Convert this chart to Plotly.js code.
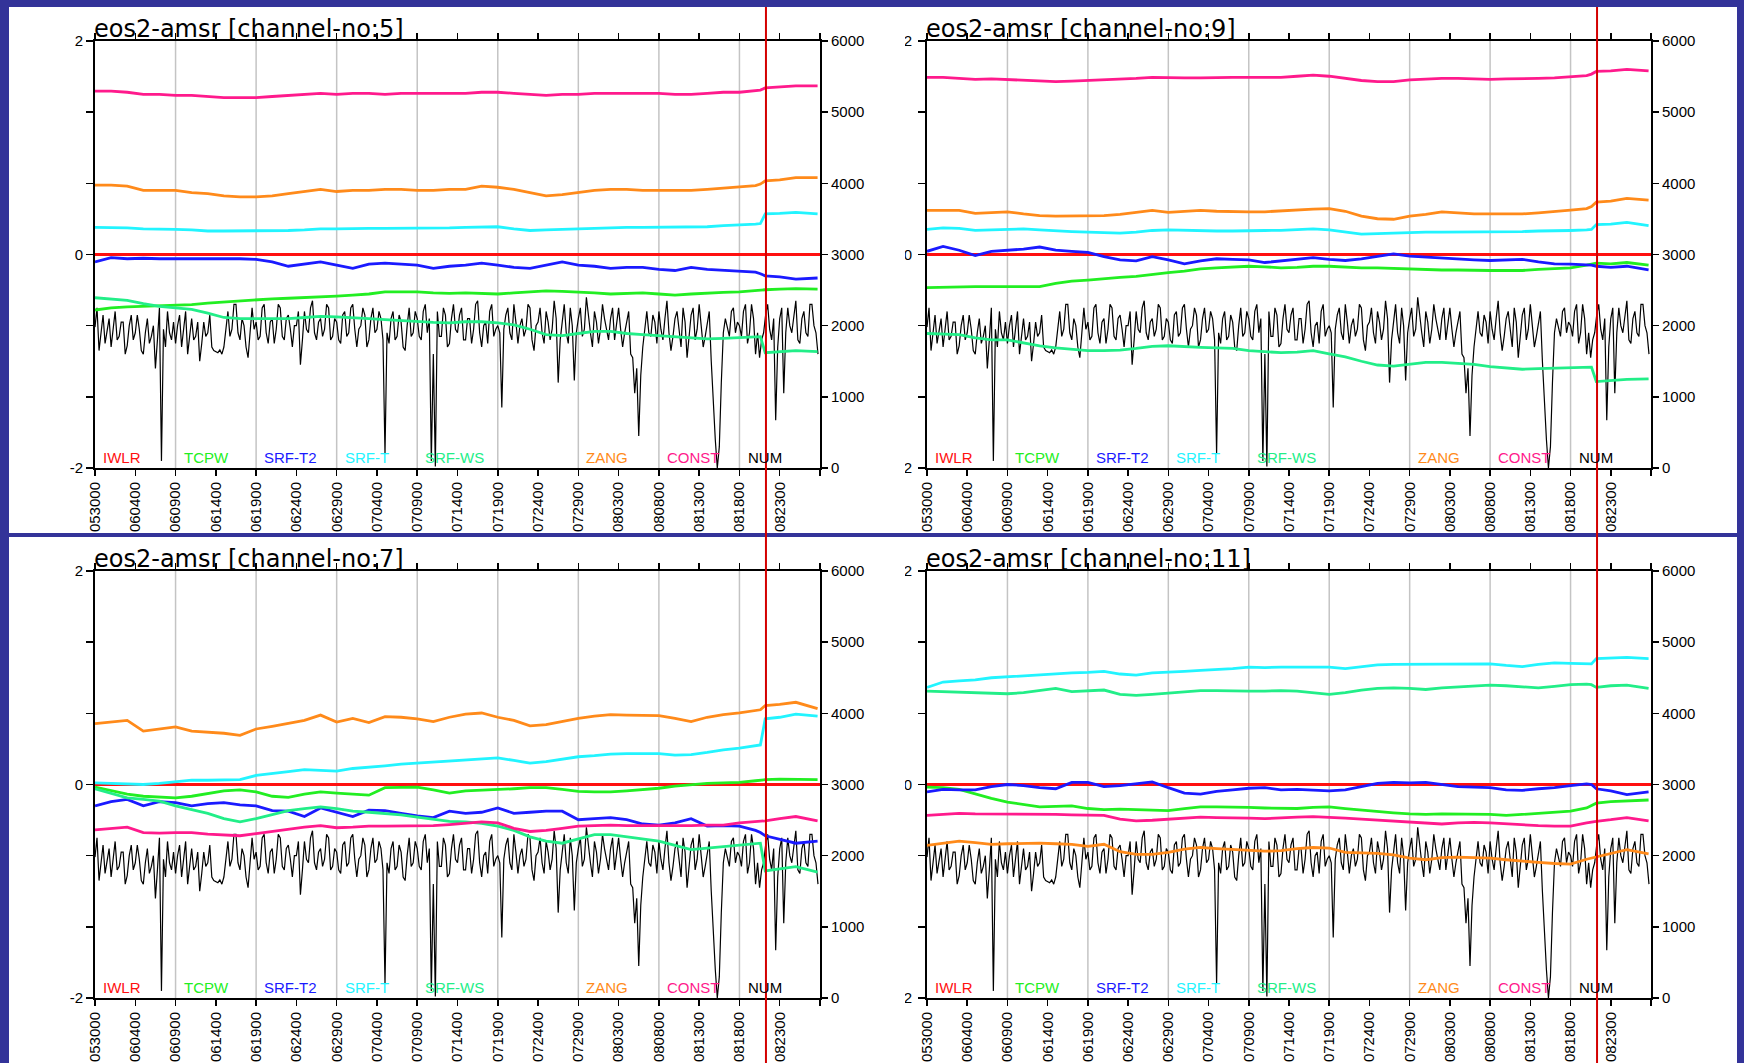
<!DOCTYPE html>
<html><head><meta charset="utf-8">
<script src="https://cdn.plot.ly/plotly-3.0.1.min.js"></script>
<style>html,body{margin:0;padding:0;background:#333399;}#chart{width:1744px;height:1063px;}</style>
</head><body><div id="chart"></div>
<script>
// ---------- data ----------
const TICK_DATES = ['2012-05-30','2012-06-04','2012-06-09','2012-06-14','2012-06-19','2012-06-24','2012-06-29','2012-07-04','2012-07-09','2012-07-14','2012-07-19','2012-07-24','2012-07-29','2012-08-03','2012-08-08','2012-08-13','2012-08-18','2012-08-23','2012-08-28'];
const TICK_TEXT = ['053000','060400','060900','061400','061900','062400','062900','070400','070900','071400','071900','072400','072900','080300','080800','081300','081800','082300',''];
const GRID_DATES = ['2012-06-09','2012-06-19','2012-06-29','2012-07-09','2012-07-19','2012-07-29','2012-08-08','2012-08-18'];
const MARK_DATE = '2012-08-21 07:00';
const SERIES_NAMES = ['IWLR','TCPW','SRF-T2','SRF-T','SRF-WS','ZANG','CONST','NUM'];
const LEGEND_SLOTS = [0,1,2,3,4,6,7,8];
// day offsets (from 2012-05-30 00Z) of the coefficient samples
const COEF_DAYS = [0,2,4,6,8,10,12,14,16,18,20,22,24,26,28,30,32,34,36,38,40,42,44,46,48,50,52,54,56,58,60,62,64,66,68,70,72,74,76,78,80,82,82.6,83.2,85,87,89.7];
const IWLR_DAYS = [0,90];
const IWLR = [0,0];
// number of observations, 6-hourly from 2012-05-30 00Z
const NUM = [
1980,2250,1650,1900,2150,1750,1900,2100,1700,1950,2200,1800,1850,2050,2050,1600,1720,2000,2150,1800,
1900,2150,1950,1650,1600,1900,2100,1750,1850,2000,1400,1800,2250,100,1950,1700,2200,1900,1800,2050,
1750,2000,2150,1700,1950,2200,1600,1850,2100,1800,1850,2050,1500,1750,2050,1850,1900,2150,1700,1650,
1640,1620,1660,1600,1700,1950,2200,1850,1950,2300,2300,1900,1800,2100,2000,1700,1550,1900,2250,1950,
2050,1800,1850,2250,2300,1900,1750,2050,2100,1750,1950,2300,2250,1850,1800,2100,2150,1950,1700,2000,
2000,2200,1450,1800,2200,1950,1900,2250,2350,1900,1800,2050,2100,1850,1950,2300,2250,1800,1850,2100,
2050,1800,1750,2150,2200,1850,1900,2250,2300,1950,1700,1950,2000,2250,2150,1700,1800,2100,2250,1900,
1950,2200,2100,1800,200,1900,1750,2100,2200,1800,1850,2150,2050,1700,1650,2000,2250,1850,1900,2200,
2100,1850,1800,2200,2300,1900,2100,100,1600,20,2200,1850,1850,2250,2150,1700,1750,2100,2300,1950,
1900,2150,2250,1800,1800,2100,2100,1750,1950,2300,2350,1900,1700,2000,2050,1750,2200,2300,1850,1950,
2000,1900,850,1950,2150,2250,1900,1800,2300,2050,1750,2000,2100,1850,1950,2300,2250,1800,1650,2000,
2050,2250,1900,1750,2200,2050,1800,1950,2350,2100,1200,1800,2100,2300,1900,1750,2250,2000,1230,1900,
2100,2250,1850,1950,2400,2100,1900,1700,2200,2050,1750,1950,2300,2100,1950,1800,2100,2250,1800,2000,
2250,1950,1700,1900,2050,2200,1600,1550,1050,1400,450,1300,1700,2000,2200,1900,1850,2150,2050,1750,
2200,1950,1800,2100,2350,1900,1650,1850,2100,2200,1900,1700,2250,2050,1550,1850,2150,2250,1800,1950,
2300,2000,1700,1850,2050,2200,1500,900,400,0,300,1200,1900,2100,1950,1850,2200,2250,1900,2050,
2000,1850,2200,2300,1750,1900,2300,2100,1600,1900,1550,1800,1900,2150,2300,1950,1800,2100,670,1700,
2100,2250,1050,1900,2250,2000,1900,2150,2350,1800,1750,2100,2200,1900,1850,2300,2300,2000,1900,1600];

// channel 5
const CH5_TCPW = [-0.52,-0.50,-0.49,-0.485,-0.48,-0.48,-0.47,-0.455,-0.445,-0.43,-0.42,-0.415,-0.41,-0.405,-0.40,-0.39,-0.38,-0.37,-0.35,-0.35,-0.35,-0.36,-0.365,-0.36,-0.365,-0.37,-0.36,-0.35,-0.34,-0.345,-0.35,-0.36,-0.37,-0.365,-0.36,-0.37,-0.38,-0.37,-0.36,-0.355,-0.35,-0.335,-0.335,-0.33,-0.325,-0.32,-0.325];
const CH5_SRFT2 = [-0.07,-0.03,-0.04,-0.035,-0.04,-0.04,-0.04,-0.035,-0.04,-0.04,-0.045,-0.07,-0.11,-0.09,-0.07,-0.10,-0.13,-0.09,-0.08,-0.09,-0.10,-0.13,-0.11,-0.10,-0.08,-0.10,-0.12,-0.13,-0.10,-0.07,-0.10,-0.11,-0.13,-0.12,-0.12,-0.14,-0.15,-0.12,-0.14,-0.15,-0.16,-0.165,-0.18,-0.20,-0.21,-0.23,-0.22];
const CH5_SRFT = [0.255,0.255,0.25,0.24,0.24,0.235,0.23,0.22,0.22,0.22,0.22,0.22,0.225,0.23,0.24,0.24,0.245,0.245,0.245,0.245,0.245,0.245,0.25,0.255,0.26,0.26,0.24,0.225,0.23,0.235,0.24,0.25,0.255,0.255,0.255,0.255,0.255,0.255,0.26,0.27,0.275,0.285,0.29,0.38,0.385,0.395,0.38];
const CH5_SRFWS = [-0.405,-0.415,-0.43,-0.46,-0.485,-0.50,-0.515,-0.55,-0.59,-0.60,-0.60,-0.60,-0.60,-0.59,-0.58,-0.585,-0.59,-0.60,-0.61,-0.62,-0.63,-0.635,-0.64,-0.63,-0.63,-0.64,-0.66,-0.70,-0.75,-0.76,-0.74,-0.72,-0.72,-0.74,-0.75,-0.76,-0.77,-0.785,-0.79,-0.785,-0.78,-0.77,-0.77,-0.92,-0.91,-0.90,-0.91];
const CH5_ZANG = [0.65,0.65,0.64,0.60,0.60,0.60,0.58,0.57,0.55,0.54,0.54,0.55,0.57,0.59,0.61,0.59,0.60,0.60,0.61,0.61,0.60,0.60,0.61,0.61,0.64,0.63,0.61,0.58,0.55,0.56,0.58,0.60,0.61,0.61,0.60,0.60,0.60,0.60,0.61,0.62,0.63,0.645,0.66,0.69,0.70,0.72,0.72];
const CH5_CONST = [1.53,1.53,1.52,1.50,1.50,1.49,1.49,1.48,1.47,1.47,1.47,1.48,1.49,1.50,1.51,1.50,1.51,1.51,1.50,1.51,1.51,1.51,1.51,1.51,1.52,1.52,1.51,1.50,1.49,1.50,1.50,1.51,1.51,1.51,1.51,1.51,1.50,1.50,1.51,1.52,1.52,1.53,1.54,1.56,1.57,1.58,1.58];
// channel 9
const CH9_TCPW = [-0.31,-0.305,-0.30,-0.30,-0.30,-0.30,-0.305,-0.30,-0.27,-0.25,-0.24,-0.225,-0.215,-0.205,-0.185,-0.17,-0.155,-0.135,-0.125,-0.115,-0.11,-0.115,-0.125,-0.12,-0.11,-0.11,-0.12,-0.125,-0.125,-0.13,-0.14,-0.145,-0.145,-0.145,-0.15,-0.15,-0.15,-0.15,-0.14,-0.13,-0.125,-0.10,-0.09,-0.08,-0.088,-0.075,-0.10];
const CH9_SRFT2 = [0.03,0.075,0.04,-0.01,0.03,0.04,0.05,0.07,0.04,0.03,0.02,-0.02,-0.05,-0.06,-0.02,-0.05,-0.088,-0.06,-0.04,-0.045,-0.05,-0.075,-0.06,-0.04,-0.03,-0.045,-0.056,-0.04,-0.02,0.005,-0.015,-0.025,-0.035,-0.04,-0.05,-0.056,-0.05,-0.045,-0.07,-0.088,-0.09,-0.094,-0.10,-0.11,-0.12,-0.11,-0.145];
const CH9_SRFT = [0.235,0.25,0.245,0.226,0.23,0.235,0.24,0.23,0.22,0.215,0.21,0.205,0.20,0.21,0.225,0.23,0.225,0.22,0.22,0.22,0.225,0.225,0.226,0.235,0.24,0.23,0.21,0.19,0.195,0.20,0.21,0.21,0.21,0.21,0.21,0.21,0.215,0.215,0.22,0.22,0.225,0.23,0.235,0.28,0.285,0.30,0.27];
const CH9_SRFWS = [-0.74,-0.745,-0.75,-0.78,-0.80,-0.80,-0.83,-0.855,-0.875,-0.89,-0.90,-0.90,-0.895,-0.88,-0.86,-0.855,-0.865,-0.87,-0.875,-0.88,-0.90,-0.91,-0.92,-0.915,-0.90,-0.93,-0.96,-1.00,-1.035,-1.045,-1.03,-1.01,-1.01,-1.02,-1.03,-1.05,-1.065,-1.075,-1.07,-1.065,-1.06,-1.06,-1.055,-1.19,-1.18,-1.17,-1.165];
const CH9_ZANG = [0.414,0.414,0.414,0.385,0.39,0.40,0.38,0.365,0.36,0.36,0.36,0.365,0.375,0.395,0.414,0.395,0.405,0.414,0.405,0.40,0.40,0.40,0.41,0.42,0.425,0.43,0.405,0.36,0.335,0.33,0.36,0.375,0.40,0.39,0.38,0.38,0.38,0.38,0.39,0.40,0.415,0.43,0.45,0.49,0.50,0.525,0.51];
const CH9_CONST = [1.66,1.66,1.65,1.64,1.645,1.64,1.635,1.625,1.62,1.625,1.63,1.635,1.64,1.65,1.66,1.655,1.655,1.655,1.66,1.66,1.66,1.66,1.66,1.67,1.68,1.67,1.65,1.63,1.62,1.62,1.635,1.645,1.65,1.65,1.645,1.64,1.645,1.645,1.65,1.655,1.665,1.675,1.69,1.715,1.72,1.735,1.72];
// channel 7
const CH7_TCPW = [-0.025,-0.06,-0.09,-0.11,-0.12,-0.125,-0.11,-0.085,-0.06,-0.05,-0.07,-0.11,-0.12,-0.09,-0.07,-0.08,-0.09,-0.10,-0.03,-0.025,-0.025,-0.05,-0.08,-0.06,-0.055,-0.05,-0.04,-0.03,-0.03,-0.045,-0.065,-0.07,-0.07,-0.06,-0.05,-0.035,-0.015,0.0,0.01,0.015,0.02,0.035,0.04,0.045,0.05,0.05,0.045];
const CH7_SRFT2 = [-0.20,-0.16,-0.14,-0.20,-0.16,-0.17,-0.20,-0.18,-0.17,-0.19,-0.20,-0.245,-0.25,-0.30,-0.22,-0.26,-0.30,-0.24,-0.245,-0.27,-0.295,-0.31,-0.25,-0.27,-0.26,-0.22,-0.27,-0.26,-0.25,-0.25,-0.33,-0.32,-0.31,-0.33,-0.37,-0.38,-0.36,-0.32,-0.39,-0.385,-0.39,-0.43,-0.45,-0.48,-0.51,-0.55,-0.53];
const CH7_SRFT = [0.015,0.01,0.005,0.0,0.01,0.025,0.04,0.04,0.04,0.045,0.085,0.10,0.12,0.14,0.135,0.125,0.15,0.16,0.175,0.19,0.20,0.21,0.22,0.235,0.245,0.25,0.225,0.20,0.215,0.24,0.26,0.27,0.285,0.29,0.29,0.29,0.275,0.28,0.30,0.325,0.34,0.36,0.37,0.615,0.63,0.66,0.64];
const CH7_SRFWS = [-0.04,-0.08,-0.125,-0.14,-0.155,-0.20,-0.235,-0.27,-0.32,-0.35,-0.32,-0.28,-0.245,-0.225,-0.21,-0.225,-0.25,-0.26,-0.27,-0.285,-0.305,-0.325,-0.345,-0.35,-0.365,-0.39,-0.43,-0.49,-0.53,-0.55,-0.51,-0.47,-0.47,-0.49,-0.51,-0.53,-0.57,-0.61,-0.595,-0.58,-0.565,-0.55,-0.55,-0.81,-0.79,-0.77,-0.82];
const CH7_ZANG = [0.57,0.585,0.60,0.50,0.52,0.54,0.50,0.49,0.48,0.46,0.52,0.545,0.57,0.60,0.65,0.585,0.62,0.58,0.635,0.63,0.615,0.59,0.63,0.66,0.67,0.63,0.60,0.55,0.56,0.59,0.62,0.64,0.655,0.65,0.65,0.645,0.62,0.59,0.63,0.655,0.67,0.69,0.70,0.74,0.75,0.77,0.71];
const CH7_CONST = [-0.425,-0.41,-0.40,-0.45,-0.455,-0.45,-0.45,-0.465,-0.475,-0.48,-0.46,-0.44,-0.415,-0.40,-0.385,-0.405,-0.40,-0.39,-0.39,-0.39,-0.39,-0.385,-0.375,-0.36,-0.35,-0.36,-0.41,-0.44,-0.43,-0.41,-0.39,-0.385,-0.38,-0.385,-0.385,-0.385,-0.39,-0.385,-0.38,-0.38,-0.36,-0.35,-0.345,-0.34,-0.32,-0.30,-0.34];
// channel 11
const CH11_TCPW = [-0.025,-0.03,-0.045,-0.09,-0.13,-0.165,-0.19,-0.21,-0.205,-0.20,-0.225,-0.235,-0.23,-0.235,-0.24,-0.245,-0.225,-0.21,-0.21,-0.21,-0.215,-0.22,-0.225,-0.225,-0.215,-0.21,-0.225,-0.24,-0.255,-0.265,-0.275,-0.28,-0.275,-0.275,-0.275,-0.28,-0.29,-0.28,-0.265,-0.255,-0.25,-0.22,-0.20,-0.175,-0.16,-0.155,-0.145];
const CH11_SRFT2 = [-0.07,-0.045,-0.05,-0.05,-0.02,0.0,-0.01,-0.03,-0.04,0.02,0.02,-0.02,-0.01,0.01,0.025,-0.03,-0.08,-0.09,-0.065,-0.05,-0.035,-0.03,-0.05,-0.045,-0.05,-0.06,-0.05,-0.02,0.01,0.02,0.015,0.02,0.0,-0.02,-0.025,-0.03,-0.05,-0.055,-0.04,-0.03,-0.01,0.005,0.0,-0.04,-0.06,-0.095,-0.07];
const CH11_SRFT = [0.91,0.96,0.97,0.98,1.0,1.01,1.015,1.025,1.035,1.045,1.05,1.06,1.035,1.025,1.045,1.05,1.06,1.07,1.075,1.085,1.10,1.095,1.10,1.10,1.10,1.10,1.085,1.10,1.12,1.125,1.125,1.125,1.125,1.13,1.13,1.13,1.115,1.105,1.125,1.14,1.135,1.13,1.13,1.18,1.185,1.19,1.18];
const CH11_SRFWS = [0.875,0.87,0.865,0.86,0.855,0.85,0.86,0.88,0.90,0.87,0.88,0.885,0.845,0.835,0.845,0.855,0.87,0.88,0.88,0.875,0.875,0.875,0.88,0.875,0.86,0.845,0.86,0.885,0.90,0.905,0.90,0.89,0.905,0.915,0.925,0.93,0.925,0.915,0.905,0.92,0.935,0.94,0.935,0.91,0.925,0.93,0.90];
const CH11_ZANG = [-0.57,-0.55,-0.53,-0.545,-0.56,-0.555,-0.55,-0.55,-0.555,-0.56,-0.58,-0.56,-0.63,-0.655,-0.655,-0.635,-0.605,-0.59,-0.60,-0.61,-0.62,-0.625,-0.62,-0.60,-0.59,-0.595,-0.635,-0.64,-0.645,-0.66,-0.69,-0.705,-0.685,-0.68,-0.685,-0.69,-0.705,-0.72,-0.73,-0.74,-0.745,-0.70,-0.69,-0.68,-0.645,-0.61,-0.65];
const CH11_CONST = [-0.29,-0.28,-0.27,-0.275,-0.275,-0.28,-0.28,-0.28,-0.28,-0.285,-0.29,-0.29,-0.325,-0.34,-0.335,-0.325,-0.31,-0.305,-0.31,-0.31,-0.315,-0.32,-0.31,-0.305,-0.30,-0.305,-0.315,-0.325,-0.335,-0.345,-0.355,-0.365,-0.37,-0.36,-0.355,-0.36,-0.37,-0.38,-0.385,-0.39,-0.39,-0.36,-0.35,-0.345,-0.33,-0.31,-0.34];

const PANELS = [
  {title:'eos2-amsr [channel-no:5]', col:0, row:0, s:{'TCPW':CH5_TCPW,'SRF-T2':CH5_SRFT2,'SRF-T':CH5_SRFT,'SRF-WS':CH5_SRFWS,'ZANG':CH5_ZANG,'CONST':CH5_CONST}},
  {title:'eos2-amsr [channel-no:9]', col:1, row:0, s:{'TCPW':CH9_TCPW,'SRF-T2':CH9_SRFT2,'SRF-T':CH9_SRFT,'SRF-WS':CH9_SRFWS,'ZANG':CH9_ZANG,'CONST':CH9_CONST}},
  {title:'eos2-amsr [channel-no:7]', col:0, row:1, s:{'TCPW':CH7_TCPW,'SRF-T2':CH7_SRFT2,'SRF-T':CH7_SRFT,'SRF-WS':CH7_SRFWS,'ZANG':CH7_ZANG,'CONST':CH7_CONST}},
  {title:'eos2-amsr [channel-no:11]', col:1, row:1, s:{'TCPW':CH11_TCPW,'SRF-T2':CH11_SRFT2,'SRF-T':CH11_SRFT,'SRF-WS':CH11_SRFWS,'ZANG':CH11_ZANG,'CONST':CH11_CONST}}
];

// ---------- style ----------
const COLORS = {'IWLR':'#ff1010','TCPW':'#22ee22','SRF-T2':'#1a1aff','SRF-T':'#22f4ff','SRF-WS':'#22ee88','ZANG':'#ff8a1a','CONST':'#ff1a8c','NUM':'#000000'};
const W = 1744, H = 1063;
const COLX = [[95,820],[927,1651]];
const ROWY = [[41,468],[571,998]];
const FONT = 'Liberation Sans, Arial, sans-serif';
const px = v => v / W;
const py = v => 1 - v / H;
const T0 = Date.UTC(2012, 4, 30);
const dayToDate = d => new Date(T0 + d * 86400000).toISOString().slice(0, 19).replace('T', ' ');

const traces = [];
const layout = {
  width: W, height: H, margin: {l:0, r:0, t:0, b:0, pad:0},
  paper_bgcolor: '#333399', plot_bgcolor: 'rgba(0,0,0,0)',
  showlegend: false, font: {family: FONT, color: '#000', size: 15},
  shapes: [], annotations: []
};
// white panels
layout.shapes.push({type:'rect', xref:'paper', yref:'paper', x0:px(9), x1:px(1737), y0:py(533), y1:py(7), fillcolor:'#ffffff', line:{width:0}, layer:'below'});
layout.shapes.push({type:'rect', xref:'paper', yref:'paper', x0:px(9), x1:px(1737), y0:0, y1:py(537), fillcolor:'#ffffff', line:{width:0}, layer:'below'});

const numDates = NUM.map((_, i) => dayToDate(i * 0.25));
const coefDates = COEF_DAYS.map(dayToDate);
const iwlrDates = IWLR_DAYS.map(dayToDate);

PANELS.forEach((p, i) => {
  const xa = i === 0 ? 'x' : 'x' + (i + 1);
  const yn = i === 0 ? 'y' : 'y' + (2 * i + 1);
  const yc = 'y' + (2 * i + 2);
  const xk = 'xaxis' + (i === 0 ? '' : i + 1);
  const ynk = 'yaxis' + (i === 0 ? '' : 2 * i + 1);
  const yck = 'yaxis' + (2 * i + 2);
  const [x0, x1] = COLX[p.col];
  const [y0, y1] = ROWY[p.row];
  layout[xk] = {
    domain: [px(x0), px(x1)], anchor: yn, type: 'date',
    range: [dayToDate(0), dayToDate(90)],
    tickmode: 'array', tickvals: TICK_DATES, ticktext: TICK_TEXT, tickangle: -90,
    ticks: 'outside', ticklen: 6, tickwidth: 1.5, tickcolor: '#000',
    showline: true, linecolor: '#000', linewidth: 2, mirror: 'ticks',
    showgrid: false, zeroline: false, tickfont: {family: FONT, size: 15, color: '#000'}
  };
  layout[ynk] = {
    domain: [py(y1), py(y0)], anchor: xa, side: 'right', range: [0, 6000],
    tickmode: 'array', tickvals: [0,1000,2000,3000,4000,5000,6000],
    ticks: 'outside', ticklen: 6, tickwidth: 1.5, tickcolor: '#000',
    showline: true, linecolor: '#000', linewidth: 2, showgrid: false, zeroline: false,
    tickfont: {family: FONT, size: 15, color: '#000'}
  };
  layout[yck] = {
    overlaying: yn, anchor: xa, side: 'left', range: [-2, 2],
    tickmode: 'array', tickvals: [2, 4/3, 2/3, 0, -2/3, -4/3, -2], ticktext: ['2','','','0','','','-2'],
    ticks: 'outside', ticklen: 7, tickwidth: 1.5, tickcolor: '#000',
    ticklabelstandoff: p.col === 1 ? 3 : 0,
    showline: true, linecolor: '#000', linewidth: 2, showgrid: false, zeroline: false,
    tickfont: {family: FONT, size: 15, color: '#000'}
  };
  // grid lines
  GRID_DATES.forEach(d => layout.shapes.push({type:'line', xref:xa, yref:yn + ' domain', x0:d, x1:d, y0:0, y1:1, line:{color:'#c4c4c4', width:1.5}, layer:'below'}));
  // NUM on primary axis (drawn first)
  traces.push({type:'scatter', mode:'lines', x:numDates, y:NUM, xaxis:xa, yaxis:yn, line:{color:COLORS['NUM'], width:1.2}, hoverinfo:'skip'});
  // coefficient series on overlay axis
  traces.push({type:'scatter', mode:'lines', x:iwlrDates, y:IWLR, xaxis:xa, yaxis:yc, line:{color:COLORS['IWLR'], width:3}, hoverinfo:'skip'});
  ['TCPW','SRF-T2','SRF-T','SRF-WS','ZANG','CONST'].forEach(n => {
    traces.push({type:'scatter', mode:'lines', x:coefDates, y:p.s[n], xaxis:xa, yaxis:yc, line:{color:COLORS[n], width:2.8}, hoverinfo:'skip'});
  });
  // title
  layout.annotations.push({xref:xa + ' domain', yref:yn + ' domain', x:0, y:1, xanchor:'left', yanchor:'bottom', text:p.title, showarrow:false, font:{family:'DejaVu Sans, Liberation Sans, sans-serif', size:24, color:'#000'}, xshift:-3, yshift:-4});
  // series labels
  SERIES_NAMES.forEach((n, k) => layout.annotations.push({xref:xa + ' domain', yref:yn + ' domain', x:(1 + 10 * LEGEND_SLOTS[k]) / 90, y:0, xanchor:'left', yanchor:'bottom', text:n, showarrow:false, font:{family:FONT, size:15, color:COLORS[n]}, xshift:-2, yshift:0}));
});
// clip the left tick labels of the right-hand panels
layout.shapes.push({type:'rect', xref:'paper', yref:'paper', x0:px(872), x1:px(905), y0:py(533), y1:py(7), fillcolor:'#ffffff', line:{width:0}, layer:'above'});
layout.shapes.push({type:'rect', xref:'paper', yref:'paper', x0:px(872), x1:px(905), y0:0, y1:py(537), fillcolor:'#ffffff', line:{width:0}, layer:'above'});
// marker date lines
['x','x2'].forEach(xa => layout.shapes.push({type:'line', xref:xa, yref:'paper', x0:MARK_DATE, x1:MARK_DATE, y0:0, y1:py(7), line:{color:'#d40000', width:2}, layer:'above'}));

Plotly.newPlot('chart', traces, layout, {staticPlot:true});
</script>
</body></html>
